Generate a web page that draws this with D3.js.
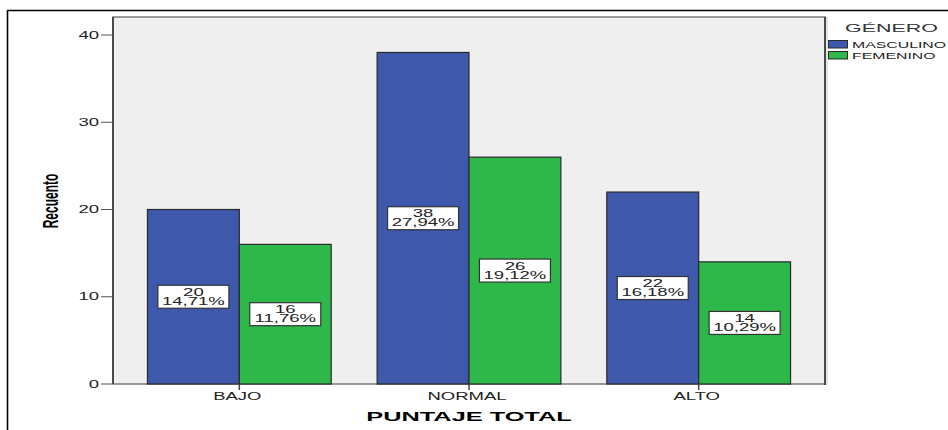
<!DOCTYPE html>
<html>
<head>
<meta charset="utf-8">
<script src="https://cdn.jsdelivr.net/npm/d3@7"></script>
<style>
  html, body { margin: 0; padding: 0; background: #fff; }
  svg { display: block; font-family: Arial, "Liberation Sans", sans-serif; }
</style>
</head>
<body>
<svg id="chart" width="948" height="430"></svg>
<script>
// ---- data ----
const categories = ["BAJO", "NORMAL", "ALTO"];
const seriesNames = ["MASCULINO", "FEMENINO"];
const masculino = [20, 38, 22];
const femenino = [16, 26, 14];
const masculinoPct = ["14,71%", "27,94%", "16,18%"];
const femeninoPct = ["11,76%", "19,12%", "10,29%"];
const yTicks = [0, 10, 20, 30, 40];
const seriesColors = ["#3e58ac", "#2eb84a"];
const legendTitle = "GÉNERO";
const xTitle = "PUNTAJE TOTAL";
const yTitle = "Recuento";

const values = [masculino, femenino];
const pcts = [masculinoPct, femeninoPct];

// ---- layout ----
const svg = d3.select("#chart");
const plot = { left: 113, right: 825, top: 17, bottom: 384 };
const SX = 1.85; // horizontal stretch of the reference's text

// frame
svg.append("line").attr("x1", 7).attr("x2", 948).attr("y1", 10.5).attr("y2", 10.5)
  .attr("stroke", "#000").attr("stroke-width", 1.6);
svg.append("line").attr("x1", 7.5).attr("x2", 7.5).attr("y1", 10).attr("y2", 430)
  .attr("stroke", "#000").attr("stroke-width", 1.6);

const x = d3.scaleBand().domain(categories).range([plot.left, plot.right])
  .paddingInner(0.2).paddingOuter(0.15);
const xs = d3.scaleBand().domain(seriesNames).range([0, x.bandwidth()]).padding(0);
const y = d3.scaleLinear().domain([0, 40]).range([plot.bottom, 35]);

// plot background
svg.append("rect").attr("x", plot.left).attr("y", plot.top)
  .attr("width", plot.right - plot.left).attr("height", plot.bottom - plot.top)
  .attr("fill", "#efefef").attr("stroke", "#7a7a7a").attr("stroke-width", 1.5);
// darker left & right edges
svg.append("line").attr("x1", plot.left).attr("x2", plot.left).attr("y1", plot.top).attr("y2", plot.bottom)
  .attr("stroke", "#4a4a4a").attr("stroke-width", 2);
svg.append("line").attr("x1", plot.right).attr("x2", plot.right).attr("y1", plot.top).attr("y2", plot.bottom + 1)
  .attr("stroke", "#4a4a4a").attr("stroke-width", 2);
svg.append("line").attr("x1", plot.right + 2).attr("x2", plot.right + 2).attr("y1", plot.top).attr("y2", plot.bottom + 1)
  .attr("stroke", "#c8c8c8").attr("stroke-width", 1);

// helper for stretched text
function stext(g, txt, tx, ty, opts) {
  const t = g.append("text")
    .attr("transform", `translate(${tx},${ty}) scale(${opts.sx || SX},1)`)
    .attr("font-size", opts.size || 10)
    .attr("font-weight", opts.weight || "normal")
    .attr("text-anchor", opts.anchor || "middle")
    .attr("fill", opts.fill || "#222")
    .text(txt);
  return t;
}

// y axis ticks and labels
const yAxisG = svg.append("g");
yTicks.forEach(v => {
  yAxisG.append("line").attr("x1", plot.left - 12).attr("x2", plot.left)
    .attr("y1", y(v)).attr("y2", y(v)).attr("stroke", "#555").attr("stroke-width", 1);
  stext(yAxisG, String(v), plot.left - 14, y(v) + 3.5, { anchor: "end", size: 10 });
});

// bars
const groups = svg.append("g").selectAll("g").data(categories).join("g")
  .attr("transform", d => `translate(${x(d)},0)`);
seriesNames.forEach((s, si) => {
  groups.append("rect")
    .attr("x", xs(s))
    .attr("y", (d, i) => y(values[si][i]))
    .attr("width", xs.bandwidth())
    .attr("height", (d, i) => y(0) - y(values[si][i]))
    .attr("fill", seriesColors[si])
    .attr("stroke", "#2b2b2b").attr("stroke-width", 1.2);
});

// x axis ticks & labels
categories.forEach(c => {
  const cx = x(c) + x.bandwidth() / 2;
  svg.append("line").attr("x1", cx).attr("x2", cx).attr("y1", plot.bottom - 0).attr("y2", plot.bottom + 6)
    .attr("stroke", "#444").attr("stroke-width", 1.5);
  stext(svg, c, cx - 2, 400, { size: 10 });
});

// value labels
seriesNames.forEach((s, si) => {
  categories.forEach((c, i) => {
    const v = values[si][i];
    const cx = x(c) + xs(s) + xs.bandwidth() / 2;
    const cy = y(v / 2);
    const g = svg.append("g");
    g.append("rect").attr("x", cx - 35.5).attr("y", cy - 11.5).attr("width", 71).attr("height", 23)
      .attr("fill", "#fff").attr("stroke", "#333").attr("stroke-width", 1.2);
    stext(g, String(v), cx, cy - 1, { size: 10 });
    stext(g, pcts[si][i], cx, cy + 8, { size: 10 });
  });
});

// axis titles
stext(svg, xTitle, 469, 421, { size: 13, weight: "bold", sx: 1.95, fill: "#000" });
svg.append("text")
  .attr("transform", `translate(58,201) rotate(-90) scale(1,1.8)`)
  .attr("font-size", 12).attr("font-weight", "bold").attr("text-anchor", "middle")
  .attr("fill", "#000").text(yTitle);

// legend
stext(svg, legendTitle, 845, 32, { size: 11, anchor: "start", sx: 1.95, fill: "#333" });
seriesNames.forEach((s, si) => {
  const ly = 40 + si * 11;
  svg.append("rect").attr("x", 828.5).attr("y", ly + 0.5).attr("width", 19).attr("height", 7.5)
    .attr("fill", seriesColors[si]).attr("stroke", "#2b2b2b").attr("stroke-width", 1);
  stext(svg, s, 852, ly + 7.5, { size: 9, anchor: "start", sx: 1.76, fill: "#222" });
});
</script>
</body>
</html>
